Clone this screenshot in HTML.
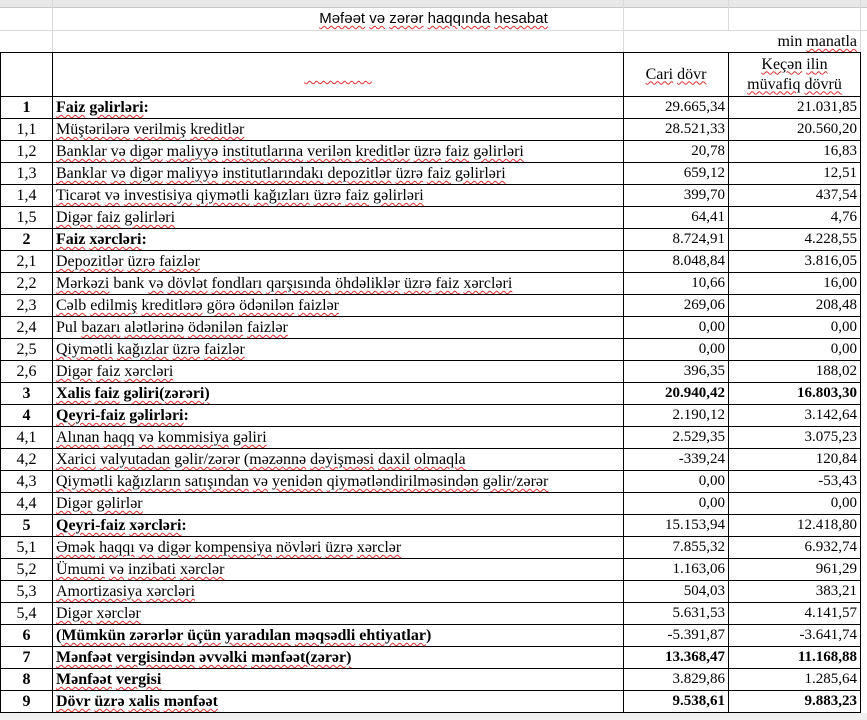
<!DOCTYPE html>
<html><head><meta charset="utf-8">
<style>
html,body{margin:0;padding:0;}
body{width:867px;height:720px;position:relative;background:#fff;overflow:hidden;font-family:"Liberation Serif",serif;font-size:16px;color:#000;}
.top{position:absolute;left:0;top:0;width:867px;height:7px;background:#e8e8e8;border-bottom:1px solid #c8c8c8;}
.g{position:absolute;background:#dadada;}
.title{position:absolute;left:0;top:8px;width:867px;height:22px;line-height:22px;text-align:center;font-family:"Liberation Sans",sans-serif;font-size:15px;}
.unit{position:absolute;left:623px;top:30px;width:234px;height:22px;line-height:24px;text-align:right;}
u{text-decoration:underline wavy #e03030;text-decoration-thickness:1px;text-underline-offset:2px;}
table{position:absolute;left:0;top:52px;border-collapse:collapse;table-layout:fixed;width:861px;}
td{border:1px solid #000;height:21px;padding:0 3px;white-space:nowrap;overflow:hidden;line-height:21px;}
td.n{text-align:center;}
td.v{text-align:right;padding-right:3px;font-size:15px;}
tr.h td{height:43px;line-height:20px;text-align:center;}
b{font-weight:bold;}
.bottom{position:absolute;left:0;top:713px;width:867px;height:7px;background:#f0f0f0;}
</style></head><body>
<div class="top"></div>
<div class="g" style="left:52px;top:0;width:1px;height:52px"></div>
<div class="g" style="left:623px;top:0;width:1px;height:52px"></div>
<div class="g" style="left:728px;top:0;width:1px;height:30px"></div>
<div class="g" style="left:860px;top:0;width:1px;height:720px"></div>
<div class="g" style="left:0;top:30px;width:867px;height:1px"></div>
<div class="title"><u>Məfəət</u> <u>və</u> <u>zərər</u> <u>haqqında</u> <u>hesabat</u></div>
<div class="unit">min <u>manatla</u></div>
<table>
<colgroup><col style="width:52px"><col style="width:571px"><col style="width:105px"><col style="width:132px"></colgroup>
<tr class="h"><td></td><td><u style="font-size:9px">&nbsp;&nbsp;&nbsp;&nbsp;&nbsp;&nbsp;&nbsp;&nbsp;&nbsp;&nbsp;&nbsp;&nbsp;&nbsp;&nbsp;&nbsp;&nbsp;&nbsp;&nbsp;&nbsp;&nbsp;&nbsp;&nbsp;&nbsp;&nbsp;&nbsp;&nbsp;&nbsp;&nbsp;&nbsp;&nbsp;</u></td><td><u>Cari</u> <u>dövr</u></td><td><u>Keçən</u> <u>ilin</u><br><u>müvafiq</u> <u>dövrü</u></td></tr>
<tr><td class="n"><b>1</b></td><td><b><u>Faiz</u> <u>gəlirləri</u>:</b></td><td class="v">29.665,34</td><td class="v">21.031,85</td></tr>
<tr><td class="n">1,1</td><td><u>Müştərilərə</u> <u>verilmiş</u> <u>kreditlər</u></td><td class="v">28.521,33</td><td class="v">20.560,20</td></tr>
<tr><td class="n">1,2</td><td><u>Banklar</u> <u>və</u> <u>digər</u> <u>maliyyə</u> <u>institutlarına</u> <u>verilən</u> <u>kreditlər</u> <u>üzrə</u> <u>faiz</u> <u>gəlirləri</u></td><td class="v">20,78</td><td class="v">16,83</td></tr>
<tr><td class="n">1,3</td><td><u>Banklar</u> <u>və</u> <u>digər</u> <u>maliyyə</u> <u>institutlarındakı</u> <u>depozitlər</u> <u>üzrə</u> <u>faiz</u> <u>gəlirləri</u></td><td class="v">659,12</td><td class="v">12,51</td></tr>
<tr><td class="n">1,4</td><td><u>Ticarət</u> <u>və</u> <u>investisiya</u> <u>qiymətli</u> <u>kağızları</u> <u>üzrə</u> <u>faiz</u> <u>gəlirləri</u></td><td class="v">399,70</td><td class="v">437,54</td></tr>
<tr><td class="n">1,5</td><td><u>Digər</u> <u>faiz</u> <u>gəlirləri</u></td><td class="v">64,41</td><td class="v">4,76</td></tr>
<tr><td class="n"><b>2</b></td><td><b><u>Faiz</u> <u>xərcləri</u>:</b></td><td class="v">8.724,91</td><td class="v">4.228,55</td></tr>
<tr><td class="n">2,1</td><td><u>Depozitlər</u> <u>üzrə</u> <u>faizlər</u></td><td class="v">8.048,84</td><td class="v">3.816,05</td></tr>
<tr><td class="n">2,2</td><td><u>Mərkəzi</u> bank <u>və</u> <u>dövlət</u> <u>fondları</u> <u>qarşısında</u> <u>öhdəliklər</u> <u>üzrə</u> <u>faiz</u> <u>xərcləri</u></td><td class="v">10,66</td><td class="v">16,00</td></tr>
<tr><td class="n">2,3</td><td><u>Cəlb</u> <u>edilmiş</u> <u>kreditlərə</u> <u>görə</u> <u>ödənilən</u> <u>faizlər</u></td><td class="v">269,06</td><td class="v">208,48</td></tr>
<tr><td class="n">2,4</td><td>Pul <u>bazarı</u> <u>alətlərinə</u> <u>ödənilən</u> <u>faizlər</u></td><td class="v">0,00</td><td class="v">0,00</td></tr>
<tr><td class="n">2,5</td><td><u>Qiymətli</u> <u>kağızlar</u> <u>üzrə</u> <u>faizlər</u></td><td class="v">0,00</td><td class="v">0,00</td></tr>
<tr><td class="n">2,6</td><td><u>Digər</u> <u>faiz</u> <u>xərcləri</u></td><td class="v">396,35</td><td class="v">188,02</td></tr>
<tr><td class="n"><b>3</b></td><td><b><u>Xalis</u> <u>faiz</u> <u>gəliri(zərəri)</u></b></td><td class="v"><b>20.940,42</b></td><td class="v"><b>16.803,30</b></td></tr>
<tr><td class="n"><b>4</b></td><td><b><u>Qeyri-faiz</u> <u>gəlirləri</u>:</b></td><td class="v">2.190,12</td><td class="v">3.142,64</td></tr>
<tr><td class="n">4,1</td><td><u>Alınan</u> <u>haqq</u> <u>və</u> <u>kommisiya</u> <u>gəliri</u></td><td class="v">2.529,35</td><td class="v">3.075,23</td></tr>
<tr><td class="n">4,2</td><td><u>Xarici</u> <u>valyutadan</u> <u>gəlir/zərər</u> (<u>məzənnə</u> <u>dəyişməsi</u> <u>daxil</u> <u>olmaqla</u></td><td class="v">-339,24</td><td class="v">120,84</td></tr>
<tr><td class="n">4,3</td><td><u>Qiymətli</u> <u>kağızların</u> <u>satışından</u> <u>və</u> <u>yenidən</u> <u>qiymətləndirilməsindən</u> <u>gəlir/zərər</u></td><td class="v">0,00</td><td class="v">-53,43</td></tr>
<tr><td class="n">4,4</td><td><u>Digər</u> <u>gəlirlər</u></td><td class="v">0,00</td><td class="v">0,00</td></tr>
<tr><td class="n"><b>5</b></td><td><b><u>Qeyri-faiz</u> <u>xərcləri</u>:</b></td><td class="v">15.153,94</td><td class="v">12.418,80</td></tr>
<tr><td class="n">5,1</td><td><u>Əmək</u> <u>haqqı</u> <u>və</u> <u>digər</u> <u>kompensiya</u> <u>növləri</u> <u>üzrə</u> <u>xərclər</u></td><td class="v">7.855,32</td><td class="v">6.932,74</td></tr>
<tr><td class="n">5,2</td><td><u>Ümumi</u> <u>və</u> <u>inzibati</u> <u>xərclər</u></td><td class="v">1.163,06</td><td class="v">961,29</td></tr>
<tr><td class="n">5,3</td><td><u>Amortizasiya</u> <u>xərcləri</u></td><td class="v">504,03</td><td class="v">383,21</td></tr>
<tr><td class="n">5,4</td><td><u>Digər</u> <u>xərclər</u></td><td class="v">5.631,53</td><td class="v">4.141,57</td></tr>
<tr><td class="n"><b>6</b></td><td><b>(<u>Mümkün</u> <u>zərərlər</u> <u>üçün</u> <u>yaradılan</u> <u>məqsədli</u> <u>ehtiyatlar</u>)</b></td><td class="v">-5.391,87</td><td class="v">-3.641,74</td></tr>
<tr><td class="n"><b>7</b></td><td><b><u>Mənfəət</u> <u>vergisindən</u> <u>əvvəlki</u> <u>mənfəət(zərər)</u></b></td><td class="v"><b>13.368,47</b></td><td class="v"><b>11.168,88</b></td></tr>
<tr><td class="n"><b>8</b></td><td><b><u>Mənfəət</u> <u>vergisi</u></b></td><td class="v">3.829,86</td><td class="v">1.285,64</td></tr>
<tr><td class="n"><b>9</b></td><td><b><u>Dövr</u> <u>üzrə</u> <u>xalis</u> <u>mənfəət</u></b></td><td class="v"><b>9.538,61</b></td><td class="v"><b>9.883,23</b></td></tr>
</table>
<div class="bottom"></div>
</body></html>
